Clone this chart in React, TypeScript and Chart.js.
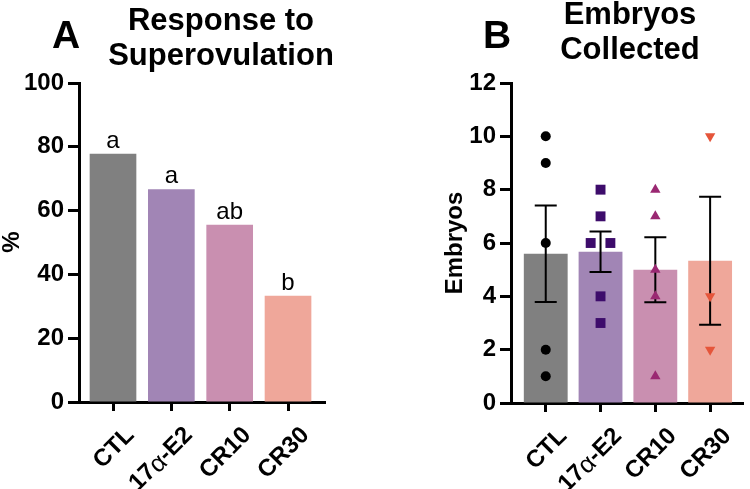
import React, { useEffect, useRef } from "react";
import { Chart, registerables } from "chart.js";

Chart.register(...registerables);

// ---------- data ----------
const categories = ["CTL", "17α-E2", "CR10", "CR30"];
const responsePct = [77.8, 66.7, 55.6, 33.3];
const sigLetters = ["a", "a", "ab", "b"];

const embryoMeans = [5.6, 5.67, 5.0, 5.33];
const embryoSem = [1.81, 0.76, 1.22, 2.4];
const ctlEmbryos = [10, 9, 6, 2, 1];
const e2Embryos = [8, 7, 6, 6, 4, 3];
const cr10Embryos = [8, 7, 5, 4, 1];
const cr30Embryos = [10, 4, 2];
const ctlJitter = [0, 0, 0, 0, 0];
const e2Jitter = [0, 0, -0.18, 0.18, 0, 0];
const cr10Jitter = [0, 0, 0, 0, 0];
const cr30Jitter = [0, 0, 0];

// ---------- styles ----------
const FONT = "'Liberation Sans', Arial, Helvetica, sans-serif";
const barColors = ["#808080", "#a185b5", "#c98fb0", "#efa79a"];
const pointColors = ["#000000", "#3d0c6b", "#9a2872", "#e5553a"];

function axisX(min: number, max: number, height: number) {
  return {
    type: "linear" as const,
    min,
    max,
    offset: false,
    afterBuildTicks: (s: any) => {
      s.ticks = categories.map((_, i) => ({ value: i }));
    },
    afterFit: (s: any) => {
      s.height = height;
      s.paddingLeft = 0;
      s.paddingRight = 0;
    },
    ticks: { display: false },
    grid: {
      offset: false,
      drawOnChartArea: false,
      drawTicks: true,
      tickLength: 9,
      tickWidth: 3,
      tickColor: "#000",
    },
    border: { display: true, color: "#000", width: 3 },
  };
}

function axisY(max: number, step: number, width: number) {
  return {
    min: 0,
    max,
    afterFit: (s: any) => {
      s.width = width;
      s.paddingTop = 0;
      s.paddingBottom = 0;
    },
    ticks: {
      stepSize: step,
      color: "#000",
      padding: 4,
      font: { family: FONT, size: 24, weight: "bold" as const },
    },
    grid: {
      drawOnChartArea: false,
      drawTicks: true,
      tickLength: 11,
      tickWidth: 3,
      tickColor: "#000",
    },
    border: { display: true, color: "#000", width: 3 },
  };
}

function drawXLabels(chart: any) {
  const ctx = chart.ctx as CanvasRenderingContext2D;
  const xs = chart.scales.x;
  const yBase = chart.chartArea.bottom + 21;
  ctx.save();
  ctx.fillStyle = "#000";
  ctx.textBaseline = "top";
  ctx.textAlign = "left";
  categories.forEach((label, i) => {
    const parts = label.split(/(α)/).filter((p) => p.length > 0);
    const fonts = parts.map((p) => (p === "α" ? `25px ${FONT}` : `bold 24px ${FONT}`));
    let total = 0;
    const widths = parts.map((p, k) => {
      ctx.font = fonts[k];
      const w = ctx.measureText(p).width;
      total += w;
      return w;
    });
    ctx.save();
    ctx.translate(xs.getPixelForValue(i) + 9, yBase);
    ctx.rotate(-Math.PI / 4);
    let cx = -total;
    parts.forEach((p, k) => {
      ctx.font = fonts[k];
      ctx.fillText(p, cx, p === "α" ? 1 : 0);
      cx += widths[k];
    });
    ctx.restore();
  });
  ctx.restore();
}

function drawTexts(
  ctx: CanvasRenderingContext2D,
  letter: string,
  letterX: number,
  titleLines: string[],
  titleX: number,
  titleBaselines: number[],
  yTitle: string,
  yTitleX: number,
  yTitleY: number
) {
  ctx.save();
  ctx.fillStyle = "#000";
  ctx.textAlign = "center";
  ctx.textBaseline = "alphabetic";
  ctx.font = `bold 39px ${FONT}`;
  ctx.fillText(letter, letterX, 48);
  ctx.font = `bold 31px ${FONT}`;
  titleLines.forEach((t, i) => ctx.fillText(t, titleX, titleBaselines[i]));
  ctx.translate(yTitleX, yTitleY);
  ctx.rotate(-Math.PI / 2);
  ctx.textBaseline = "middle";
  ctx.font = `bold 24px ${FONT}`;
  ctx.fillText(yTitle, 0, 0);
  ctx.restore();
}

function PanelA() {
  const ref = useRef<HTMLCanvasElement>(null);
  useEffect(() => {
    if (!ref.current) return;
    const textPlugin = {
      id: "textA",
      afterDraw(chart: any) {
        const ctx = chart.ctx as CanvasRenderingContext2D;
        drawTexts(ctx, "A", 66, ["Response to", "Superovulation"], 221, [30, 65], "%", 12, 242);
        drawXLabels(chart);
        const xs = chart.scales.x;
        const ys = chart.scales.y;
        ctx.save();
        ctx.fillStyle = "#000";
        ctx.textAlign = "center";
        ctx.textBaseline = "alphabetic";
        ctx.font = `24px ${FONT}`;
        sigLetters.forEach((l, i) => {
          ctx.fillText(l, xs.getPixelForValue(i), ys.getPixelForValue(responsePct[i]) - 6);
        });
        ctx.restore();
      },
    };
    const chart = new Chart(ref.current, {
      type: "bar",
      data: {
        datasets: [
          {
            data: responsePct.map((v, i) => ({ x: i, y: v })),
            backgroundColor: barColors,
            borderWidth: 0,
            barPercentage: 0.8,
            categoryPercentage: 1,
          } as any,
        ],
      },
      options: {
        responsive: false,
        animation: false,
        layout: { padding: { left: 0, right: 50, top: 83, bottom: 0 } },
        plugins: { legend: { display: false }, tooltip: { enabled: false } },
        scales: {
          x: axisX(-0.583, 3.634, 87) as any,
          y: axisY(100, 20, 79) as any,
        },
      },
      plugins: [textPlugin],
    });
    return () => chart.destroy();
  }, []);
  return <canvas ref={ref} width={375} height={489} style={{ position: "absolute", left: 0, top: 0 }} />;
}

function PanelB() {
  const ref = useRef<HTMLCanvasElement>(null);
  useEffect(() => {
    if (!ref.current) return;
    const groups = [ctlEmbryos, e2Embryos, cr10Embryos, cr30Embryos];
    const jitters = [ctlJitter, e2Jitter, cr10Jitter, cr30Jitter];
    const styles = ["circle", "rect", "triangle", "triangle"];
    const radii = [5, 7, 6, 6];
    const rotations = [0, 0, 0, 180];
    const scatterSets = groups.map((g, gi) => ({
      type: "scatter",
      data: g.map((v, j) => ({ x: gi + jitters[gi][j], y: v })),
      backgroundColor: pointColors[gi],
      borderColor: pointColors[gi],
      borderWidth: 0,
      pointStyle: styles[gi],
      pointRadius: radii[gi],
      pointRotation: rotations[gi],
      order: 1,
    }));
    const textPlugin = {
      id: "textB",
      afterDatasetDraw(chart: any, args: any) {
        if (args.index !== 0) return;
        const ctx = chart.ctx as CanvasRenderingContext2D;
        const xs = chart.scales.x;
        const ys = chart.scales.y;
        ctx.save();
        ctx.strokeStyle = "#000";
        ctx.lineWidth = 2;
        embryoMeans.forEach((m, i) => {
          const x = xs.getPixelForValue(i);
          const yTop = ys.getPixelForValue(m + embryoSem[i]);
          const yBot = ys.getPixelForValue(m - embryoSem[i]);
          ctx.beginPath();
          ctx.moveTo(x, yTop);
          ctx.lineTo(x, yBot);
          ctx.moveTo(x - 11, yTop);
          ctx.lineTo(x + 11, yTop);
          ctx.moveTo(x - 11, yBot);
          ctx.lineTo(x + 11, yBot);
          ctx.stroke();
        });
        ctx.restore();
      },
      afterDraw(chart: any) {
        drawTexts(chart.ctx, "B", 122, ["Embryos", "Collected"], 255, [24, 59], "Embryos", 80, 243);
        drawXLabels(chart);
      },
    };
    const chart = new Chart(ref.current, {
      type: "bar",
      data: {
        datasets: [
          {
            type: "bar",
            data: embryoMeans.map((v, i) => ({ x: i, y: v })),
            backgroundColor: barColors,
            borderWidth: 0,
            barPercentage: 0.8,
            categoryPercentage: 1,
            order: 2,
          } as any,
          ...(scatterSets as any[]),
        ],
      },
      options: {
        responsive: false,
        animation: false,
        layout: { padding: { left: 0, right: 2, top: 83, bottom: 0 } },
        plugins: { legend: { display: false }, tooltip: { enabled: false } },
        scales: {
          x: axisX(-0.634, 3.6, 86) as any,
          y: axisY(12, 2, 136) as any,
        },
      },
      plugins: [textPlugin],
    });
    return () => chart.destroy();
  }, []);
  return <canvas ref={ref} width={375} height={489} style={{ position: "absolute", left: 375, top: 0 }} />;
}

export default function App() {
  return (
    <div style={{ position: "absolute", left: 0, top: 0, width: 750, height: 489, background: "#fff" }}>
      <PanelA />
      <PanelB />
    </div>
  );
}
